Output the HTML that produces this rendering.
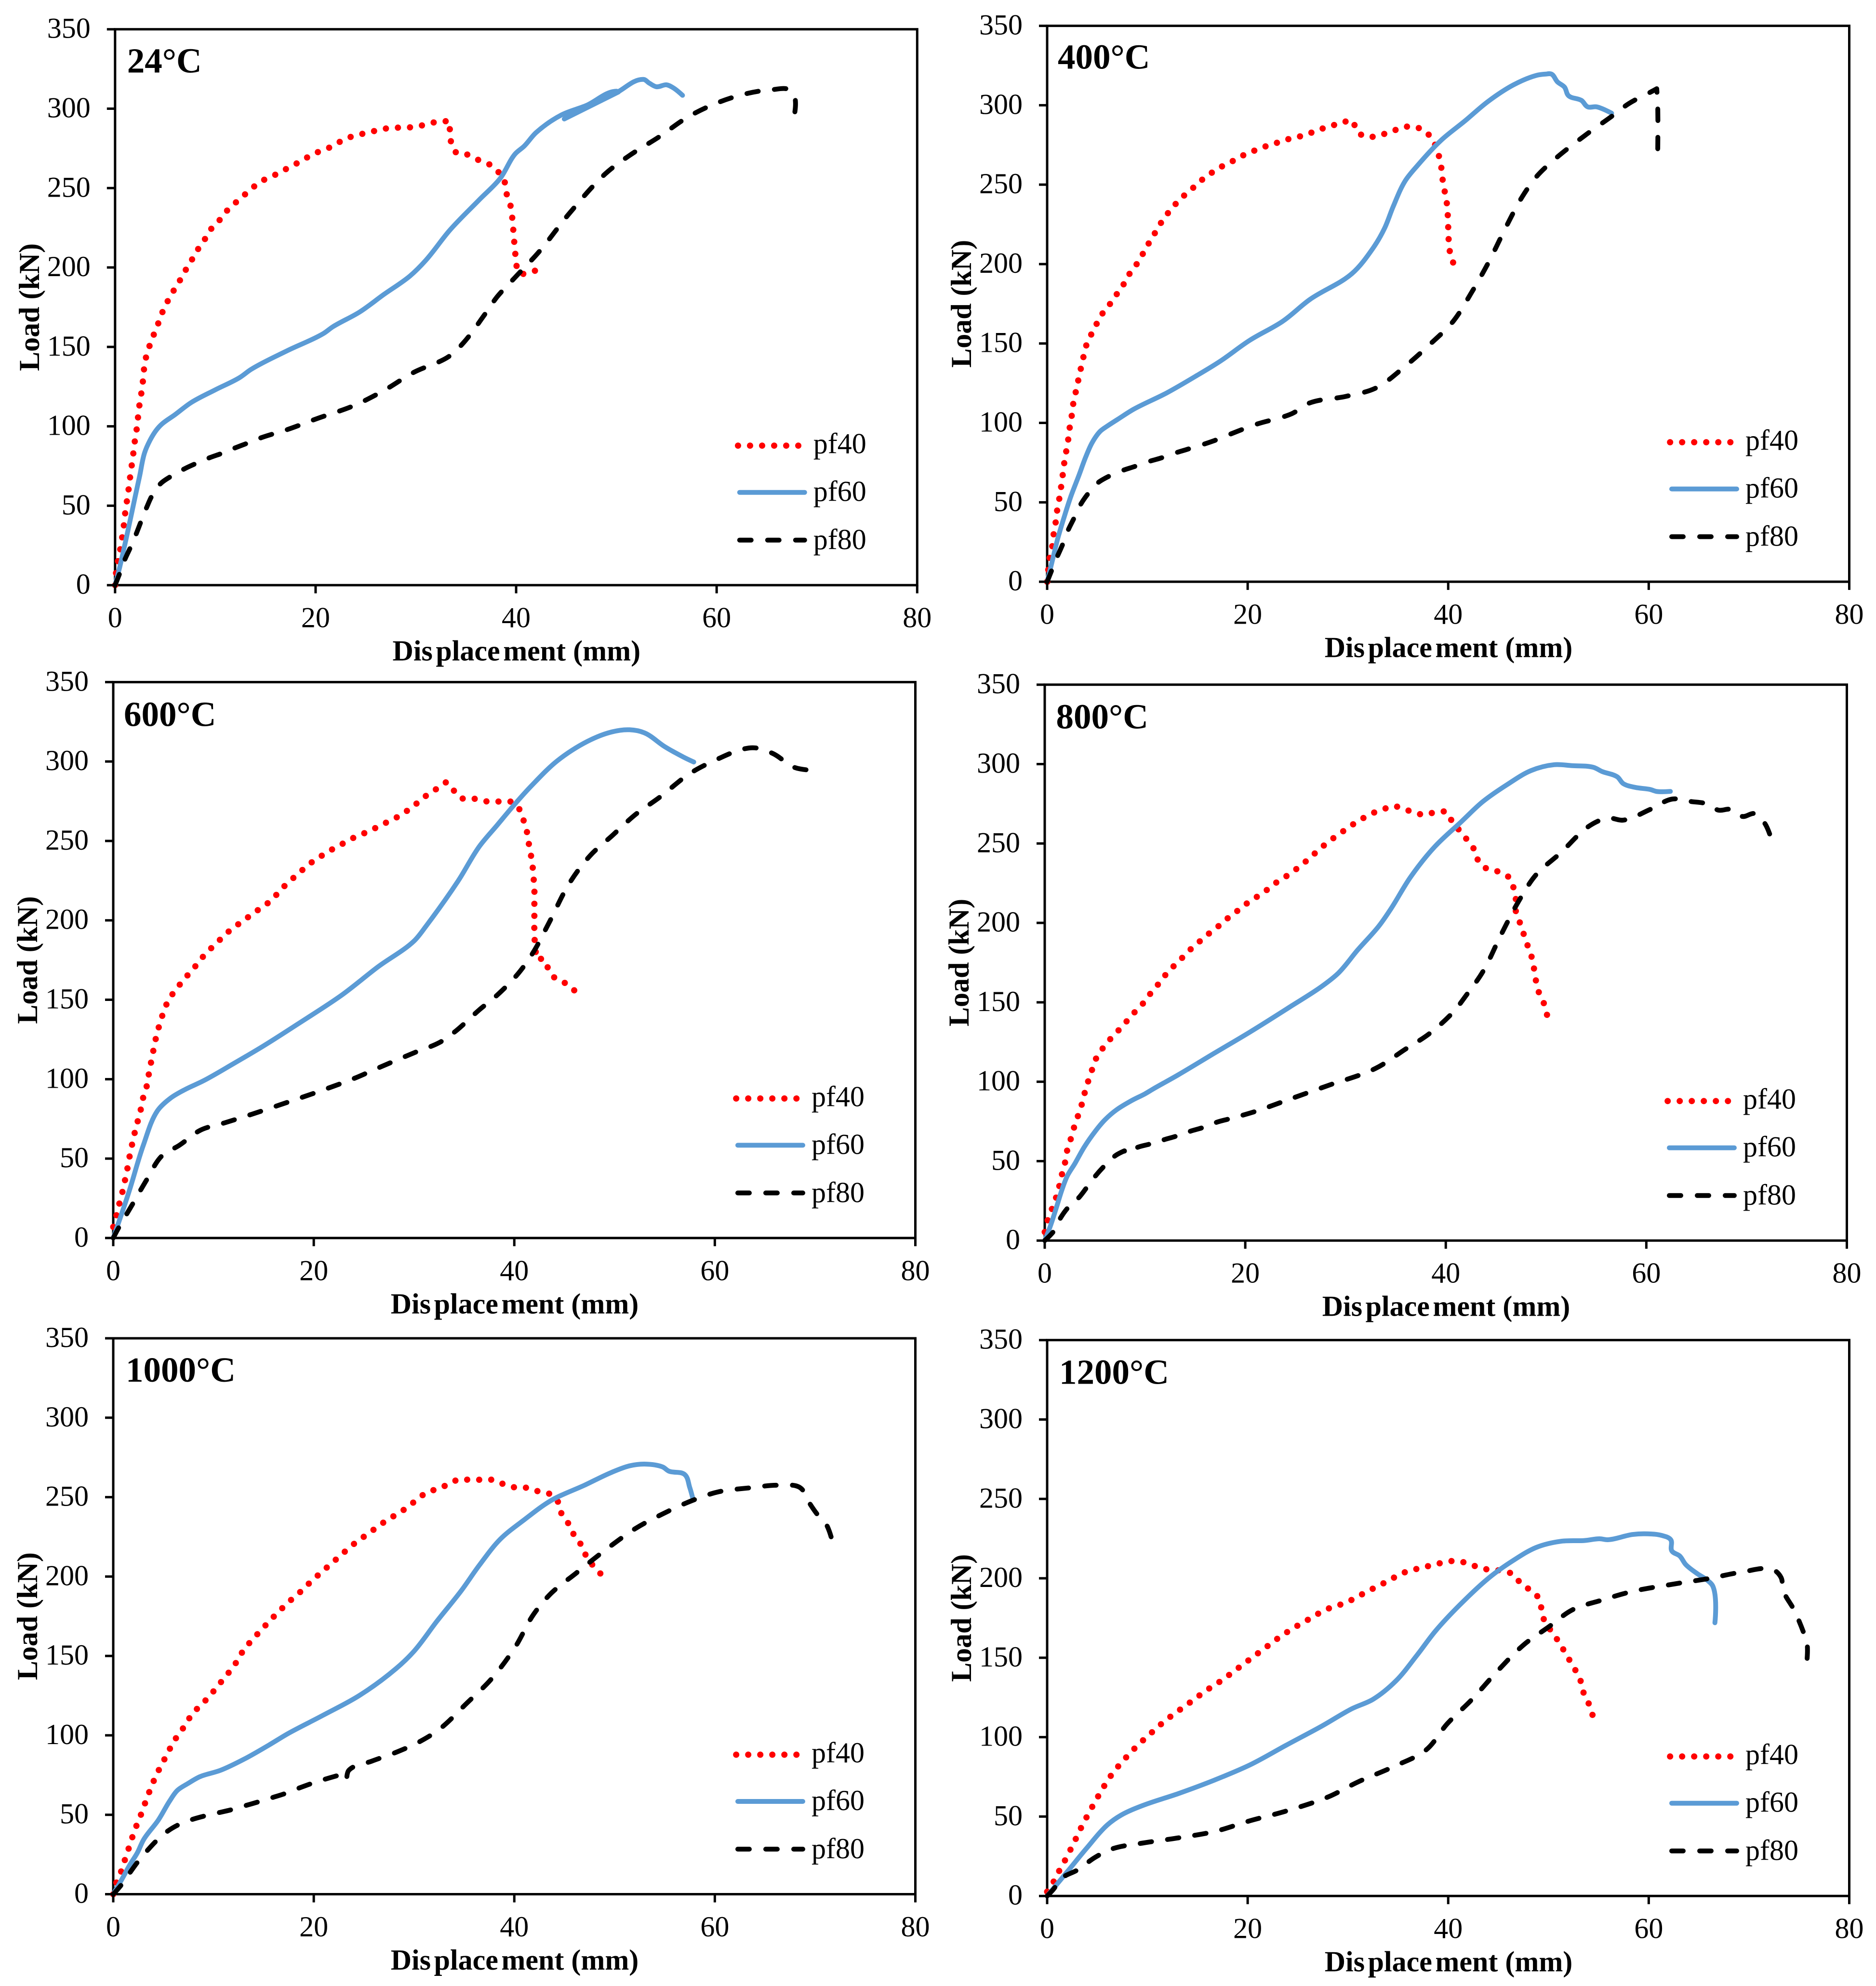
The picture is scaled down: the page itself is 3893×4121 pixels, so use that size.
<!DOCTYPE html>
<html lang="en">
<head>
<meta charset="utf-8">
<title>Load versus displacement curves at six temperatures</title>
<style>
html,body{margin:0;padding:0;background:#fff}
svg{display:block}
text{font-family:"Liberation Serif","Times New Roman",serif;fill:#000}
.tick{font-size:60px}
.leg{font-size:60px}
.ax{font-size:60px;font-weight:bold}
.ttl{font-size:73px;font-weight:bold}
.frame{fill:none;stroke:#000;stroke-width:5}
.s40{fill:none;stroke:#ff0000;stroke-width:13;stroke-linecap:round;stroke-linejoin:round;stroke-dasharray:0.01 25}
.s60{fill:none;stroke:#5b9bd5;stroke-width:10;stroke-linecap:round;stroke-linejoin:round}
.s80{fill:none;stroke:#000;stroke-width:10;stroke-linecap:round;stroke-linejoin:round;stroke-dasharray:24 34}
</style>
</head>
<body>
<svg id="figure" xmlns="http://www.w3.org/2000/svg" width="3893" height="4121" viewBox="0 0 3893 4121">
<rect width="3893" height="4121" fill="#fff"/>

<g id="panel-24" transform="translate(238.8,60.7)">
  <rect class="frame" width="1664.5" height="1153.5"/>
  <g class="marks"></g>
  <text class="ttl" x="25" y="90">24°C</text>
  <text class="ax" transform="translate(-158,576.7) rotate(-90)" text-anchor="middle">Load (kN)</text>
  <text class="ax" x="833" y="1310" text-anchor="middle">Dis<tspan dx="6.5">place</tspan><tspan dx="6.5">ment (mm)</tspan></text>
  <line class="s40" x1="1292.7" x2="1418" y1="864" y2="864"/>
  <text class="leg" x="1449" y="880">pf40</text>
  <line class="s60" x1="1296" x2="1431" y1="961" y2="961"/>
  <text class="leg" x="1449" y="979">pf60</text>
  <line class="s80" x1="1296" x2="1431" y1="1060" y2="1060"/>
  <text class="leg" x="1449" y="1079">pf80</text>
</g>

<g id="panel-400" transform="translate(2173,53.6)">
  <rect class="frame" width="1664.5" height="1153.5"/>
  <g class="marks"></g>
  <text class="ttl" x="22" y="89">400°C</text>
  <text class="ax" transform="translate(-158,576.7) rotate(-90)" text-anchor="middle">Load (kN)</text>
  <text class="ax" x="833" y="1310" text-anchor="middle">Dis<tspan dx="6.5">place</tspan><tspan dx="6.5">ment (mm)</tspan></text>
  <line class="s40" x1="1292.7" x2="1418" y1="864" y2="864"/>
  <text class="leg" x="1449" y="880">pf40</text>
  <line class="s60" x1="1296" x2="1431" y1="961" y2="961"/>
  <text class="leg" x="1449" y="979">pf60</text>
  <line class="s80" x1="1296" x2="1431" y1="1060" y2="1060"/>
  <text class="leg" x="1449" y="1079">pf80</text>
</g>

<g id="panel-600" transform="translate(235,1415.4)">
  <rect class="frame" width="1664.5" height="1153.5"/>
  <g class="marks"></g>
  <text class="ttl" x="22" y="91">600°C</text>
  <text class="ax" transform="translate(-158,576.7) rotate(-90)" text-anchor="middle">Load (kN)</text>
  <text class="ax" x="833" y="1310" text-anchor="middle">Dis<tspan dx="6.5">place</tspan><tspan dx="6.5">ment (mm)</tspan></text>
  <line class="s40" x1="1292.7" x2="1418" y1="864" y2="864"/>
  <text class="leg" x="1449" y="880">pf40</text>
  <line class="s60" x1="1296" x2="1431" y1="961" y2="961"/>
  <text class="leg" x="1449" y="979">pf60</text>
  <line class="s80" x1="1296" x2="1431" y1="1060" y2="1060"/>
  <text class="leg" x="1449" y="1079">pf80</text>
</g>

<g id="panel-800" transform="translate(2168,1420.7)">
  <rect class="frame" width="1664.5" height="1153.5"/>
  <g class="marks"></g>
  <text class="ttl" x="23.5" y="91">800°C</text>
  <text class="ax" transform="translate(-158,576.7) rotate(-90)" text-anchor="middle">Load (kN)</text>
  <text class="ax" x="833" y="1310" text-anchor="middle">Dis<tspan dx="6.5">place</tspan><tspan dx="6.5">ment (mm)</tspan></text>
  <line class="s40" x1="1292.7" x2="1418" y1="864" y2="864"/>
  <text class="leg" x="1449" y="880">pf40</text>
  <line class="s60" x1="1296" x2="1431" y1="961" y2="961"/>
  <text class="leg" x="1449" y="979">pf60</text>
  <line class="s80" x1="1296" x2="1431" y1="1060" y2="1060"/>
  <text class="leg" x="1449" y="1079">pf80</text>
</g>

<g id="panel-1000" transform="translate(235,2777)">
  <rect class="frame" width="1664.5" height="1153.5"/>
  <g class="marks"></g>
  <text class="ttl" x="26" y="90">1000°C</text>
  <text class="ax" transform="translate(-158,576.7) rotate(-90)" text-anchor="middle">Load (kN)</text>
  <text class="ax" x="833" y="1310" text-anchor="middle">Dis<tspan dx="6.5">place</tspan><tspan dx="6.5">ment (mm)</tspan></text>
  <line class="s40" x1="1292.7" x2="1418" y1="864" y2="864"/>
  <text class="leg" x="1449" y="880">pf40</text>
  <line class="s60" x1="1296" x2="1431" y1="961" y2="961"/>
  <text class="leg" x="1449" y="979">pf60</text>
  <line class="s80" x1="1296" x2="1431" y1="1060" y2="1060"/>
  <text class="leg" x="1449" y="1079">pf80</text>
</g>

<g id="panel-1200" transform="translate(2173,2780.7)">
  <rect class="frame" width="1664.5" height="1153.5"/>
  <g class="marks"></g>
  <text class="ttl" x="25" y="91">1200°C</text>
  <text class="ax" transform="translate(-158,576.7) rotate(-90)" text-anchor="middle">Load (kN)</text>
  <text class="ax" x="833" y="1310" text-anchor="middle">Dis<tspan dx="6.5">place</tspan><tspan dx="6.5">ment (mm)</tspan></text>
  <line class="s40" x1="1292.7" x2="1418" y1="864" y2="864"/>
  <text class="leg" x="1449" y="880">pf40</text>
  <line class="s60" x1="1296" x2="1431" y1="961" y2="961"/>
  <text class="leg" x="1449" y="979">pf60</text>
  <line class="s80" x1="1296" x2="1431" y1="1060" y2="1060"/>
  <text class="leg" x="1449" y="1079">pf80</text>
</g>
</svg>

<script>
const xTickLabels = [0, 20, 40, 60, 80];
const yTickLabels = [0, 50, 100, 150, 200, 250, 300, 350];
const xMax = 80;
const yMax = 350;

// 24 C
const disp24pf40 = [0,.1,.5,.86,1,1.34,1.5,1.8,1.93,2.15,2.4,2.6,2.75,3,3.35,3.75,4.2,4.6,5.1,5.7,6.3,6.9,7.5,8.1,8.8,9.4,10.2,10.9,11.7,12.6,13.5,14.5,15.5,16.5,17.6,18.6,19.6,20.8,21.9,22.9,24,25.2,26.3,27.5,28.7,29.8,31,32.3,33.4,33.4,33.6,34.1,35.2,36.3,37.3,38.1,38.8,39,39.4,39.6,39.7,39.8,39.9,40,40.3,40.8,41.9];
const load24pf40 = [0,8,22,37,45,60,68,82,89,98,112,120,127,141,149,156,163,170,177,184,190,197,203,210,216,223,228,234,239,244,249,254,257,260,264,267,271,274,277,281,283,285,286.5,288,288,288.5,290,292,292,285,277,272,271,267.5,265,261,255,247.5,240,232,225,217,210,203,196.5,196,198];
const disp24pf60 = [0,.47,.94,1.4,1.98,2.46,2.94,3.5,4.1,4.7,5.9,7.6,10,12.4,13.6,17.2,20.8,21.7,24.4,26.8,29.4,31,33.4,36.3,38.4,39.9,40.8,42,44.5,47,50,50.2,47.5,44.8,47,50,52.7,53.3,54,55,55.7,56.6];
const load24pf60 = [0,11.5,24.6,37.8,55,69,83.3,91.4,97.5,101.6,107,115,123,130.6,136,147.7,158.5,162.6,172,183,194.6,204.6,223.6,242.5,256,271.5,276.4,285,296,302,311,310.5,302,293.5,300.5,310,318.4,316,313.8,315,313,308.4];
const disp24pf80 = [0,.46,1,1.55,2.1,2.6,3.15,3.7,4.55,5.6,6.9,8.1,9.45,10.65,12,13.2,14.65,17.2,20.2,23.8,26.8,29.8,33.3,34.8,36.9,38.1,39.9,42.3,45.3,48.9,51.3,54.2,57.2,60.2,63.2,65.6,67.2,67.8,67.8];
const load24pf80 = [0,7.4,16.5,24,32.2,40.3,48.9,56.5,64,68.6,73.2,76.7,80.3,83,86.5,89.4,93,98,105,113,122.5,134,144,153,170.7,181.5,193.8,210,234,259,270.5,282,295,304,309.8,312,312,306.8,298];

// 400 C
const disp400pf40 = [0,.1,.25,.5,.65,.85,1,1.2,1.4,1.55,1.7,1.9,2.1,2.25,2.45,2.6,2.85,3.1,3.35,3.6,3.9,4.4,4.9,5.5,6.25,6.9,7.6,8.2,8.9,9.5,10.1,10.7,11.3,12,12.75,13.6,14.5,15.4,16.3,17.3,18.4,19.4,20.5,21.6,22.75,23.9,25,26.2,27.3,28.5,29.5,30.55,31,32,33.2,34.2,35.4,36.5,37.6,38.4,38.9,39.2,39.4,39.5,39.8,39.9,40,40,40.1,40.25,40.5];
const load400pf40 = [0,7,15,22,30,37.5,45,52,60,67,74.6,82,89.5,97,104.5,112,119.4,126.7,134,141,148.7,155.7,162,168.7,174.7,180.7,187,193.7,199.7,206,212.7,219,225.4,231.7,237.4,242.8,247.7,252.8,257,261,264.5,268,271,273.7,276,278.4,280,282.4,285,287.3,289.5,290,283,280,281.3,283,286,286.5,284,278.6,271.8,264.5,257,249.6,242,234.7,227,219.8,212,204.6,200.8];
const disp400pf60 = [0,.5,1.05,1.76,2.4,3.2,3.85,4.5,5.3,6,7.1,8.6,11.9,14.9,17.3,20.2,23.5,26.2,30.4,32.5,33.65,34.5,35.7,36.9,39.3,41.7,44,46.5,48.8,49.7,50.3,50.9,51.6,52,53.3,53.9,54.8,56.3];
const load400pf60 = [0,12.8,27,42,54.3,67.5,78.6,87.7,94.8,98,102.5,108.5,118.8,129.7,139,152,164,177.7,194,210,222.5,236,252.3,261.8,278,290.3,302.5,312.8,318.8,319.6,319.6,314.7,311.4,306,303,299,299,295];
const disp400pf80 = [0,.46,1.05,1.55,2.1,2.65,3.3,4,5,6.1,7.5,8.7,10.1,11.3,12.75,14,16.6,17.9,20.8,24.4,26.2,29.8,32.8,35.7,38.1,40.5,42.3,44,45.9,47.3,48.8,50.6,53.6,56.3,58,60.4,60.8,60.9,60.9];
const load400pf80 = [0,7.3,16.4,23.5,32.6,39.6,48.2,54.8,62,66.2,70,72.5,75.6,77.8,81,83.4,88.7,92,99,105.8,112.6,116.7,122,135.6,149,164,181.8,200.8,225,241.5,255,265.9,280.8,293,301,309,310.4,298.4,272.6];

// 600 C
const disp600pf40 = [0,.35,.65,.95,1.2,1.45,1.65,1.9,2.15,2.45,2.75,3,3.2,3.45,3.65,3.9,4.1,4.4,4.7,5.1,5.55,6.3,7,7.8,8.55,9.3,10.2,11,11.9,12.8,13.75,14.7,15.7,16.5,17.3,18.2,19.1,20,21,22,23.1,24.1,25.2,26.3,27.3,28.4,29.4,30.4,31.3,32.3,33.2,33.8,34.7,35.9,37.1,38.3,39.6,40.3,40.8,41.2,41.4,41.6,41.8,41.9,42,42,42,42,42,42.1,42.2,43,43.4,44.1,45.1,46];
const load600pf40 = [7,15,22.7,30,37.3,45,52,59.5,66.5,73.8,81,88.7,92,99.5,107,114.4,121.7,129.3,136.3,143.6,150.4,156.6,162.6,168,174,179.6,185,190,195,199,203.4,207.7,212.3,217.7,223,228,233,237.5,241.5,245.3,249,252.4,255.3,258.6,261.8,265.3,269.4,274.3,278.9,283,287,283,277,276.7,275,274.8,274.8,272,265,257.5,250,243,235.6,228,220.7,213,205.3,198,190.4,183,175.5,175.3,169.3,163.4,160.4,155.8];
const disp600pf60 = [0,1.55,3,4.4,5.7,7.2,9,12,15,18.6,22.8,26.4,30,31.2,34.4,36.5,38.3,40.1,41.6,44.3,47.3,49.7,51.5,53,55,56.9,57.9];
const load600pf60 = [0,28.7,58.4,80,88,93.6,99,109.8,121,135.5,153,170.7,187,196.4,224.8,246.4,260,273.5,284,300.5,312.7,318.6,320,318,309.4,302.7,299.7];
const disp600pf80 = [0,.35,1.85,3.35,4.85,6.6,8.7,11.1,13.8,17.4,20.4,24,26.4,30,32.6,34.1,36.5,38.3,40.4,41.9,43.4,45.5,47.6,49.7,52.1,54.5,57.5,60.4,62.8,64,65.8,67.9,69.1];
const load600pf80 = [0,4.3,20.5,36.8,51.7,58.4,67.9,72.5,77.9,85.5,92,100.4,107,116.6,123.3,130,143.6,153,166.6,180,197.7,223.4,241,253,266.7,277.5,292.4,301.9,307.8,308.6,305,296.4,294.8];

// 800 C
const disp800pf40 = [0,.4,.85,1.25,1.55,1.8,2.1,2.3,2.7,3,3.4,3.75,4.05,4.4,4.8,5.2,5.9,6.7,7.5,8.3,9.1,9.9,10.6,11.4,12.1,12.9,13.75,14.6,15.5,16.4,17.3,18.2,19.2,20.1,21.1,22.1,23,24,25,25.9,26.8,27.7,28.6,29.6,30.5,31.5,32.6,33.75,34.8,35.8,36.8,37.8,38.9,40.1,40.7,41.4,42.2,42.9,43.3,44.2,45.4,46.4,46.8,47,47,47.4,47.8,48.2,48.6,49,49.3,49.8,50.1];
const load800pf40 = [5.4,15,22,29.5,36.8,44,51,58.8,65.8,72.9,80,87,94.6,101.6,109,115.7,122,128,133.3,139,144.7,150,156,162,167.7,173,178.3,183.7,188.6,193.4,197.8,202.7,207.5,212,216.2,220.5,225,229,233.5,238,243,248,252.5,257,261,265,268.8,271.5,273.6,271.5,269.9,268,269.6,269.6,262.8,258,251.7,245.5,238.4,233.8,232,228,221,214,206.7,200,192.4,185,177.7,163.4,156,149,142];
const disp800pf60 = [0,.58,1.2,1.7,2.26,3,3.95,5.06,6,7.15,8.6,10,10.8,13.3,16.9,20.5,24.6,27.6,29.3,31.2,33.3,34.5,36.5,38.9,41.6,43.7,46.1,48.5,50.8,52.6,54.7,55.6,57.1,57.7,58.9,60.4,61,62.4];
const load800pf60 = [0,9.5,21.6,31.7,40.8,48.4,59,69,76,82.3,87.9,92.4,95.4,104.3,117.9,131.4,147.7,159.9,168.5,182.9,197.8,208.6,229,248,264,276.4,287,295.9,299.6,299,298,295.3,292,287.7,285.3,284,282.8,282.8];
const disp800pf80 = [0,.9,1.6,2.3,3.4,4.2,5.1,5.95,7.05,7.95,8,9.3,10.5,11.95,13.15,14.6,15.8,17.25,18.45,21,24.6,28.2,33,36,38.3,40.7,42.2,43.7,45.5,47.3,49,51.4,54.4,56.2,57.7,60.4,62.6,64.5,66,67.2,68.4,69.6,70.8,71.8,72.3];
const load800pf80 = [0,5.9,14.5,20.6,27,33.5,41,47,53.5,56.5,55,58.8,60.8,63.6,65.8,69,71.2,74.7,76.7,81.3,89.4,97.5,108.4,120.6,130,143.6,155.8,169.3,192.4,214,230.3,243.8,261.4,266,264.7,271.5,278,276.4,275,271,271.5,267,268.8,262.8,256];

// 1000 C
const disp1000pf40 = [0,.3,.77,1.15,1.54,1.9,2.3,2.76,3.16,3.57,4,4.5,5.06,5.6,6.2,6.9,7.5,8.25,9.1,9.9,10.6,11.4,12.1,12.7,13.4,14.2,15,15.8,16.6,17.5,18.4,19.25,20.1,21,21.9,22.8,23.7,24.6,25.5,26.5,27.5,28.5,29.5,30.4,31.4,32.5,33.5,34.6,35.7,36.8,38,39.1,40.2,41.4,42.5,43.6,44.4,44.7,45.4,45.9,46.6,47.1,47.8,48.6];
const load1000pf40 = [0,7,14,21.4,28.8,35.8,42.9,50,57,64,70.8,77.6,84.4,91,97.7,103.9,110,116,121.3,127,132.4,138.6,144.3,150.8,156.8,162.5,168,173.4,178.5,184,188.8,194,199,204,209,214,219,223.3,227.3,232,236.3,240,244.4,249,253.4,255.3,258.5,261.3,260.7,261,260.7,257.7,256,255.8,253.4,251.8,246.6,239.8,233.3,226.8,220.6,213.8,207.3,201.8];
const disp1000pf60 = [0,.9,1.6,2.4,3.05,4.5,5.6,6.4,7.4,8.65,10.7,13.1,15.5,17.4,21,24.6,28.2,30,32.3,34.7,36.5,38.6,41,43.7,47,49.7,51.5,53,54.8,55.4,57,57.5,57.8];
const load1000pf60 = [0,9.8,17.9,26,34.6,46.7,58.4,65.4,69.5,74,78,85.2,93.8,101,112.9,125.3,142,153,172,191,207,223.5,235.8,248,257.5,265.6,269.7,270.8,269,266.4,264.2,256,249.3];
const disp1000pf80 = [0,.8,1.7,2.45,3.4,4.3,5.4,6.5,7.85,9.15,10.5,11.85,13.2,14.5,15.9,17.15,18.6,20.4,23.4,23.3,23.5,25.8,28.2,30.55,32.6,35.3,37.7,40.1,41.9,43.7,46.1,49.1,52.1,54.5,57.8,60.4,63.4,66.4,68.5,69.4,70.3,71.1,71.6];
const load1000pf80 = [0,5.8,13.9,20.4,27.5,33.6,39.6,43.7,47,49.3,51.3,53.3,55.8,58.2,60.9,63.4,67,71,76.5,74,78,83.8,89.3,96,104.2,120.5,135.4,155.7,176,189.6,201.8,216.8,230.3,238.5,248,253.4,255.8,257.5,256,246.6,238.5,233,225];

// 1200 C
const disp1200pf40 = [0,.5,1,1.6,2.15,2.7,3.2,3.75,4.3,4.9,5.5,6.1,6.8,7.6,8.4,9.2,10.1,11,11.9,12.9,13.8,14.8,15.7,16.7,17.7,18.6,19.6,20.5,21.5,22.45,23.4,24.4,25.4,26.4,27.5,28.5,29.6,30.7,31.8,32.9,33.9,35,36,37.2,38.4,39.55,40.7,41.8,43,44.1,45.3,46.4,47.2,48.1,49,49.3,49.55,50.2,50.9,51.5,52.1,52.7,53.2,53.5,54,54.4];
const load1200pf40 = [2.7,7.3,13.5,20.3,27,33.9,40.6,47.4,53.9,60.7,67.2,73.4,79.4,85.3,90.8,95.9,101,106.2,111,115.7,119.8,124.4,128.7,132.8,137,141.4,146,150.4,155,159.6,163.9,168,171.8,175.3,179.4,182,184.2,187.5,191.3,194.8,198,201.8,204.6,206.4,208.3,210,211,209.7,207,205.4,204.8,202.7,197.2,192.9,187.8,181,174,167.4,161.2,155,148.5,142,135.5,128,121.4,113.8];
const disp1200pf60 = [0,2.1,3.9,6,7.4,9.5,13.1,16.7,20.25,23.8,27.4,30.4,32.5,34.8,36.9,38.7,41.1,44.1,46.5,48.8,51.2,53.6,55.1,55.9,58.4,59.9,61.3,62.2,62.3,63.1,63.7,64.9,65.8,66.4,66.6];
const load1200pf60 = [0,16,29.8,44.7,51,56.9,64.5,73,82.6,94.8,107,117.9,123.8,135.5,151.7,166.6,182.9,200.5,211.3,219.5,223.3,223.8,224.9,224.3,227.6,228,227,224.3,217.3,214,208.6,202.7,199,195,172];
const disp1200pf80 = [0,.6,1.5,3,4.8,6.55,9.5,13.1,16.7,20.25,23.8,28,31,34.5,37.8,39.9,42.3,45,47.6,50,52.4,55.4,58.4,62.5,66.1,69.1,72.4,73.2,73.4,74.5,75.4,75.8,75.8];
const load1200pf80 = [0,4,11.4,16.3,24.4,29.8,33.3,36.6,40.6,47.4,53.4,62.3,71.8,81.3,92,108.4,123.3,142.2,158.5,169.3,180.2,186.4,191.8,196.4,200,203.7,205.4,200.5,192.4,180,166.6,158.5,149.6];

const panelIds = ['panel-24','panel-400','panel-600','panel-800','panel-1000','panel-1200'];
const panelDisp = [
  [disp24pf40, disp24pf60, disp24pf80],
  [disp400pf40, disp400pf60, disp400pf80],
  [disp600pf40, disp600pf60, disp600pf80],
  [disp800pf40, disp800pf60, disp800pf80],
  [disp1000pf40, disp1000pf60, disp1000pf80],
  [disp1200pf40, disp1200pf60, disp1200pf80]
];
const panelLoad = [
  [load24pf40, load24pf60, load24pf80],
  [load400pf40, load400pf60, load400pf80],
  [load600pf40, load600pf60, load600pf80],
  [load800pf40, load800pf60, load800pf80],
  [load1000pf40, load1000pf60, load1000pf80],
  [load1200pf40, load1200pf60, load1200pf80]
];
const seriesNames = ['pf40', 'pf60', 'pf80'];

const NS = 'http://www.w3.org/2000/svg';
const plotW = 1664.5;
const plotH = 1153.5;
function xScale(v) { return v / xMax * plotW; }
function yScale(v) { return plotH - v / yMax * plotH; }

// Smooth path through the scaled data points; sharp corners stay sharp.
function curvePath(xs, ys) {
  const n = Math.min(xs.length, ys.length);
  const px = [], py = [];
  for (let i = 0; i < n; i++) { px.push(xScale(xs[i])); py.push(yScale(ys[i])); }
  const tx = [], ty = [];
  for (let i = 0; i < n; i++) {
    if (i === 0 || i === n - 1) { tx.push(0); ty.push(0); continue; }
    const ax = px[i] - px[i-1], ay = py[i] - py[i-1];
    const bx = px[i+1] - px[i], by = py[i+1] - py[i];
    const la = Math.hypot(ax, ay) || 1, lb = Math.hypot(bx, by) || 1;
    const c = (ax * bx + ay * by) / (la * lb);
    if (c < 0.4) { tx.push(0); ty.push(0); continue; }
    const sx = ax / la + bx / lb, sy = ay / la + by / lb;
    const ls = Math.hypot(sx, sy) || 1;
    tx.push(sx / ls); ty.push(sy / ls);
  }
  let d = 'M' + px[0].toFixed(1) + ' ' + py[0].toFixed(1);
  for (let i = 1; i < n; i++) {
    const seg = Math.hypot(px[i] - px[i-1], py[i] - py[i-1]) * 0.33;
    d += 'C' + (px[i-1] + tx[i-1] * seg).toFixed(1) + ' ' + (py[i-1] + ty[i-1] * seg).toFixed(1) +
         ' ' + (px[i] - tx[i] * seg).toFixed(1) + ' ' + (py[i] - ty[i] * seg).toFixed(1) +
         ' ' + px[i].toFixed(1) + ' ' + py[i].toFixed(1);
  }
  return d;
}

panelIds.forEach(function (id, p) {
  const panel = document.getElementById(id);
  const marks = panel.querySelector('.marks');

  xTickLabels.forEach(function (t) {
    const tick = document.createElementNS(NS, 'line');
    
    
    tick.setAttribute('x1', xScale(t));
    tick.setAttribute('x2', xScale(t));
    tick.setAttribute('y1', plotH);
    tick.setAttribute('y2', plotH + 17);
    tick.setAttribute('stroke', '#000');
    tick.setAttribute('stroke-width', 5);
    panel.appendChild(tick);
    const label = document.createElementNS(NS, 'text');
    
    
    label.setAttribute('class', 'tick');
    label.setAttribute('x', xScale(t));
    label.setAttribute('y', plotH + 87.5);
    label.setAttribute('text-anchor', 'middle');
    label.textContent = t;
    panel.appendChild(label);
  });

  yTickLabels.forEach(function (t) {
    const tick = document.createElementNS(NS, 'line');
    
    
    tick.setAttribute('x1', -17);
    tick.setAttribute('x2', 0);
    tick.setAttribute('y1', yScale(t));
    tick.setAttribute('y2', yScale(t));
    tick.setAttribute('stroke', '#000');
    tick.setAttribute('stroke-width', 5);
    panel.appendChild(tick);
    const label = document.createElementNS(NS, 'text');
    
    
    label.setAttribute('class', 'tick');
    label.setAttribute('x', -51);
    label.setAttribute('y', yScale(t) + 18);
    label.setAttribute('text-anchor', 'end');
    label.textContent = t;
    panel.appendChild(label);
  });

  seriesNames.forEach(function (name, s) {
    const path = document.createElementNS(NS, 'path');
    
    
    path.setAttribute('class', 's' + name.slice(2));
    path.setAttribute('d', curvePath(panelDisp[p][s], panelLoad[p][s]));
    marks.appendChild(path);
    const len = path.getTotalLength();
    if (name === 'pf40') {
      const period = (len - 1) / Math.max(1, Math.round(len / 25));
      path.style.strokeDasharray = '0.01 ' + (period - 0.01).toFixed(3);
    } else if (name === 'pf80') {
      const period = (len - 24) / Math.max(1, Math.round((len - 24) / 58));
      path.style.strokeDasharray = '24 ' + (period - 24).toFixed(3);
    }
  });
});
</script>
</body>
</html>
